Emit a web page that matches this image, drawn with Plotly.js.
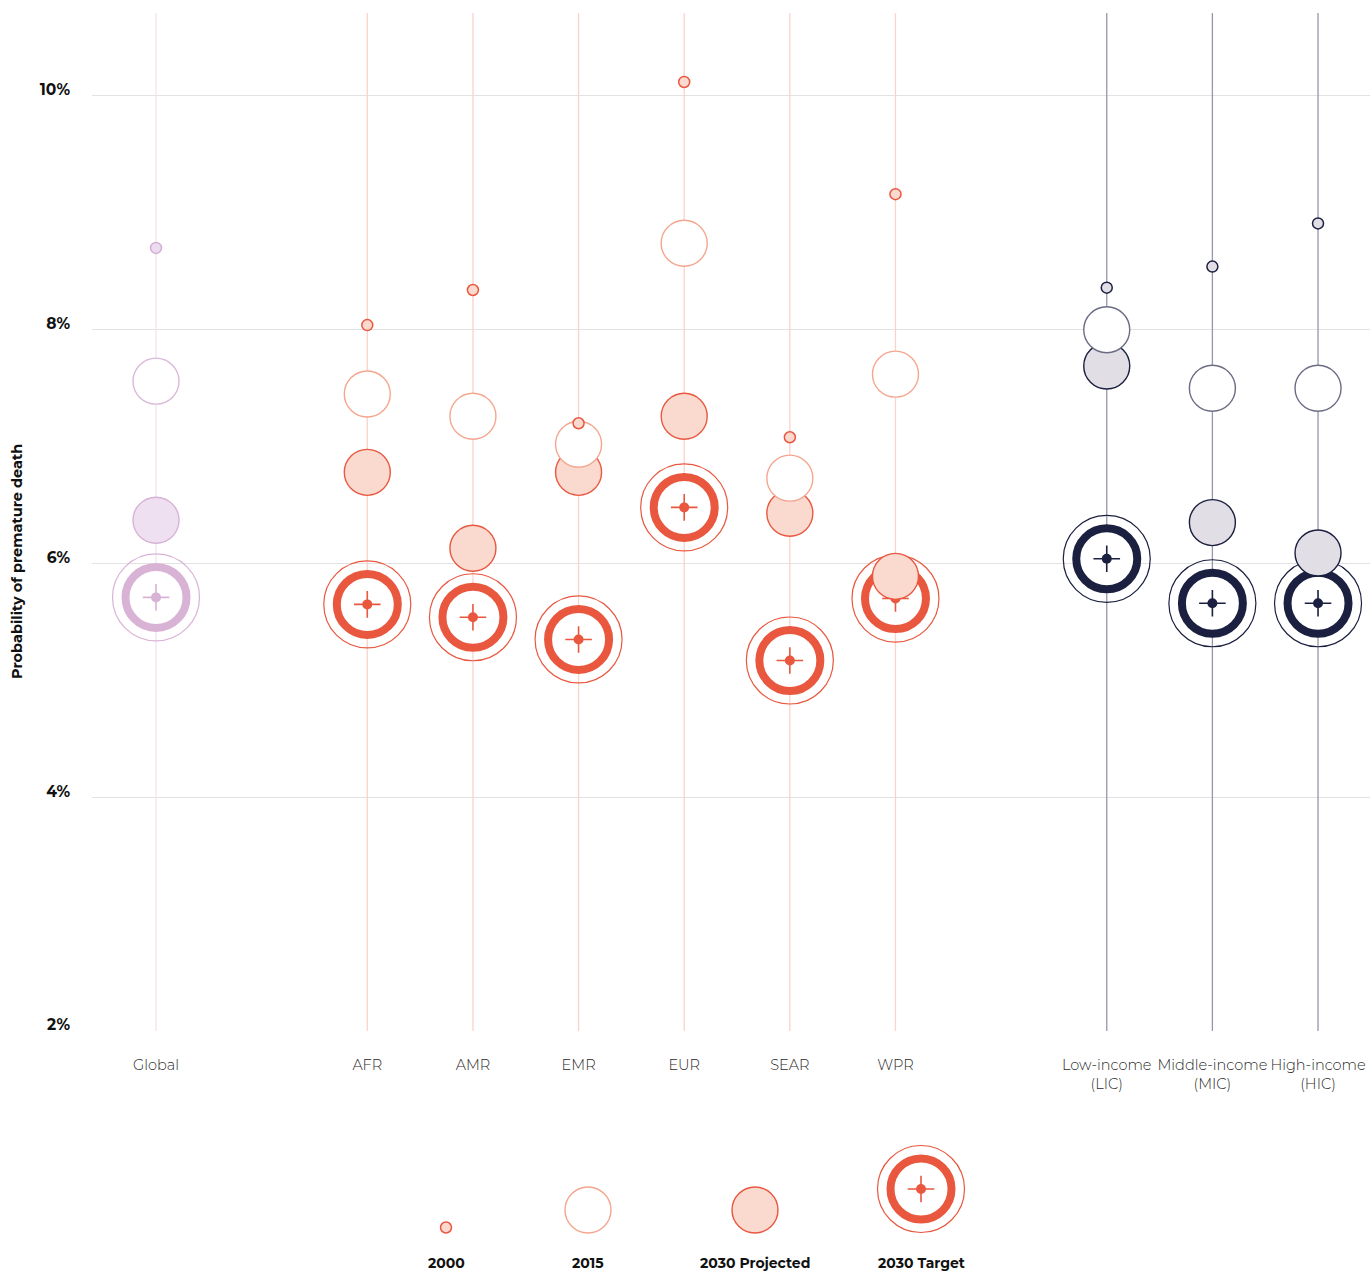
<!DOCTYPE html>
<html><head><meta charset="utf-8">
<script src="https://cdn.plot.ly/plotly-3.0.1.min.js"></script>
<style>html,body{margin:0;padding:0;background:#fff}</style>
</head><body><div id="chart" style="width:1370px;height:1273px"></div>
<script>
// ---- data ----
const categories = ['Global','AFR','AMR','EMR','EUR','SEAR','WPR','Low-income<br>(LIC)','Middle-income<br>(MIC)','High-income<br>(HIC)'];
const categoryGroup = ['global','region','region','region','region','region','region','income','income','income'];
const val2000 = [8.70, 8.04, 8.34, 7.20, 10.12, 7.08, 9.16, 8.36, 8.54, 8.91];
const val2015 = [7.56, 7.45, 7.26, 7.02, 8.74, 6.73, 7.62, 8.00, 7.50, 7.50];
const val2030Projected = [6.37, 6.78, 6.13, 6.78, 7.26, 6.43, 5.89, 7.69, 6.35, 6.09];
const val2030Target = [5.71, 5.65, 5.54, 5.35, 6.48, 5.17, 5.70, 6.04, 5.66, 5.66];
const yTickVals = [2, 4, 6, 8, 10];
const yTickText = ['2%', '4%', '6%', '8%', '10%'];
const legendLabels = ['2000', '2015', '2030 Projected', '2030 Target'];

// ---- layout / style ----
const slot = [0, 2, 3, 4, 5, 6, 7, 9, 10, 11];
const Y_RANGE = [2, 10.71];
const X_RANGE = [-0.606, 11.492];
const FONT = 'Montserrat, Inter, "Open Sans", sans-serif';
const palette = {
  global: {stem:'#f1e3f2', main:'#d9b3d6', light:'#efe0f1', ring2015:'#dbb8da', projLine:'#d8b2d6', dotFill:'#ecdcef', dotLine:'#d6add3'},
  region: {stem:'#fcd3c8', main:'#e9573f', light:'#fad9cf', ring2015:'#f5a68f', projLine:'#e9573f', dotFill:'#fad9cf', dotLine:'#e9573f'},
  income: {stem:'#9697aa', main:'#1b2040', light:'#e1dee5', ring2015:'#6b6d84', projLine:'#1b2040', dotFill:'#e1dee5', dotLine:'#1b2040'}
};
const SZ = {dot2000:11, big:46, ringOuter:87, ringThick:61, ringWidth:8, cross:19, center:10};

function targetTraces(xs, ys, col, xa, ya) {
  const base = {type:'scatter', mode:'markers', x:xs, y:ys, hoverinfo:'skip', showlegend:false, cliponaxis:false, xaxis:xa, yaxis:ya};
  return [
    Object.assign({}, base, {marker:{size:SZ.ringOuter, color:'rgba(255,255,255,0)', line:{color:col, width:1.2}}}),
    Object.assign({}, base, {marker:{size:SZ.ringThick, color:'rgba(255,255,255,1)', line:{color:col, width:SZ.ringWidth}}}),
    Object.assign({}, base, {marker:{symbol:'cross-thin', size:SZ.cross, color:col, line:{color:col, width:1.6}}}),
    Object.assign({}, base, {marker:{size:SZ.center, color:col, line:{width:0}}})
  ];
}
function bigTrace(xs, ys, fill, line, lw, xa, ya) {
  return {type:'scatter', mode:'markers', x:xs, y:ys, hoverinfo:'skip', showlegend:false, cliponaxis:false, xaxis:xa, yaxis:ya,
    marker:{size:SZ.big, color:fill, line:{color:line, width:lw}}};
}
function dotTrace(xs, ys, fill, line, xa, ya) {
  return {type:'scatter', mode:'markers', x:xs, y:ys, hoverinfo:'skip', showlegend:false, cliponaxis:false, xaxis:xa, yaxis:ya,
    marker:{size:SZ.dot2000, color:fill, line:{color:line, width:1.5}}};
}

const traces = [];
const groupNames = ['global','region','income'];
// stems
categories.forEach((c, i) => {
  const p = palette[categoryGroup[i]];
  traces.push({type:'scatter', mode:'lines', x:[slot[i], slot[i]], y:Y_RANGE, hoverinfo:'skip', showlegend:false,
    line:{color:p.stem, width:1.3}});
});
const pick = (arr, g) => arr.filter((_, i) => categoryGroup[i] === g);
const xsOf = g => slot.filter((_, i) => categoryGroup[i] === g);
// layered: target, projected, 2015, 2000
groupNames.forEach(g => { traces.push(...targetTraces(xsOf(g), pick(val2030Target, g), palette[g].main, 'x', 'y')); });
groupNames.forEach(g => { const p = palette[g]; traces.push(bigTrace(xsOf(g), pick(val2030Projected, g), p.light, p.projLine, 1.4, 'x', 'y')); });
groupNames.forEach(g => { const p = palette[g]; traces.push(bigTrace(xsOf(g), pick(val2015, g), '#ffffff', p.ring2015, 1.4, 'x', 'y')); });
groupNames.forEach(g => { const p = palette[g]; traces.push(dotTrace(xsOf(g), pick(val2000, g), p.dotFill, p.dotLine, 'x', 'y')); });

// ---- key (bottom) : pixel-unit subplot, markers bottom-aligned ----
const legX = [446, 588, 755, 921];
const LEG_BASE = 1233;
const rp = palette.region;
traces.push(dotTrace([legX[0]], [LEG_BASE - SZ.dot2000/2], rp.dotFill, rp.dotLine, 'x2', 'y2'));
traces.push(bigTrace([legX[1]], [LEG_BASE - SZ.big/2], '#ffffff', rp.ring2015, 1.4, 'x2', 'y2'));
traces.push(bigTrace([legX[2]], [LEG_BASE - SZ.big/2], rp.light, rp.projLine, 1.4, 'x2', 'y2'));
traces.push(...targetTraces([legX[3]], [LEG_BASE - (SZ.ringOuter+1)/2], rp.main, 'x2', 'y2'));

const H = 1273, T = 13;
const paperH = H - T;
const mainBottom = (H - 1031) / paperH;

const annotations = legendLabels.map((t, i) => ({
  xref:'x2', yref:'y2', x:legX[i], y:1263, text:'<b>' + t + '</b>', showarrow:false,
  xanchor:'center', yanchor:'middle', font:{family:FONT, size:14, color:'#111'}
}));
annotations.push({
  xref:'paper', yref:'paper', x:(17 - 92) / 1278, y:(H - 562) / paperH, text:'<b>Probability of premature death</b>',
  textangle:-90, showarrow:false, xanchor:'center', yanchor:'middle', font:{family:FONT, size:14.5, color:'#111'}
});

const layout = {
  width:1370, height:1273,
  margin:{l:92, r:0, t:T, b:0},
  paper_bgcolor:'#ffffff', plot_bgcolor:'#ffffff',
  showlegend:false,
  font:{family:FONT},
  xaxis:{domain:[0,1], range:X_RANGE, tickvals:slot, ticktext:categories, showgrid:false, zeroline:false, showline:false,
    tickangle:0, ticks:'outside', ticklen:21, tickcolor:'rgba(0,0,0,0)', tickfont:{family:FONT, size:14.5, color:'#2a2a2a', weight:300},
    fixedrange:true, anchor:'y'},
  yaxis:{domain:[mainBottom, 1], range:Y_RANGE, tickvals:yTickVals, ticktext:yTickText, showgrid:true, gridcolor:'#e2e2e2', gridwidth:1,
    zeroline:false, showline:false, ticks:'', ticklabelstandoff:21, ticklabelshift:-6,
    tickfont:{family:FONT, size:15.5, color:'#111', weight:'bold'}, fixedrange:true, anchor:'x'},
  xaxis2:{domain:[0,1], range:[92,1370], visible:false, anchor:'y2', fixedrange:true},
  yaxis2:{domain:[0, (H - 1100) / paperH], range:[1273, 1100], visible:false, anchor:'x2', fixedrange:true},
  annotations:annotations
};
Plotly.newPlot('chart', traces, layout, {displayModeBar:false, staticPlot:true});
</script></body></html>
